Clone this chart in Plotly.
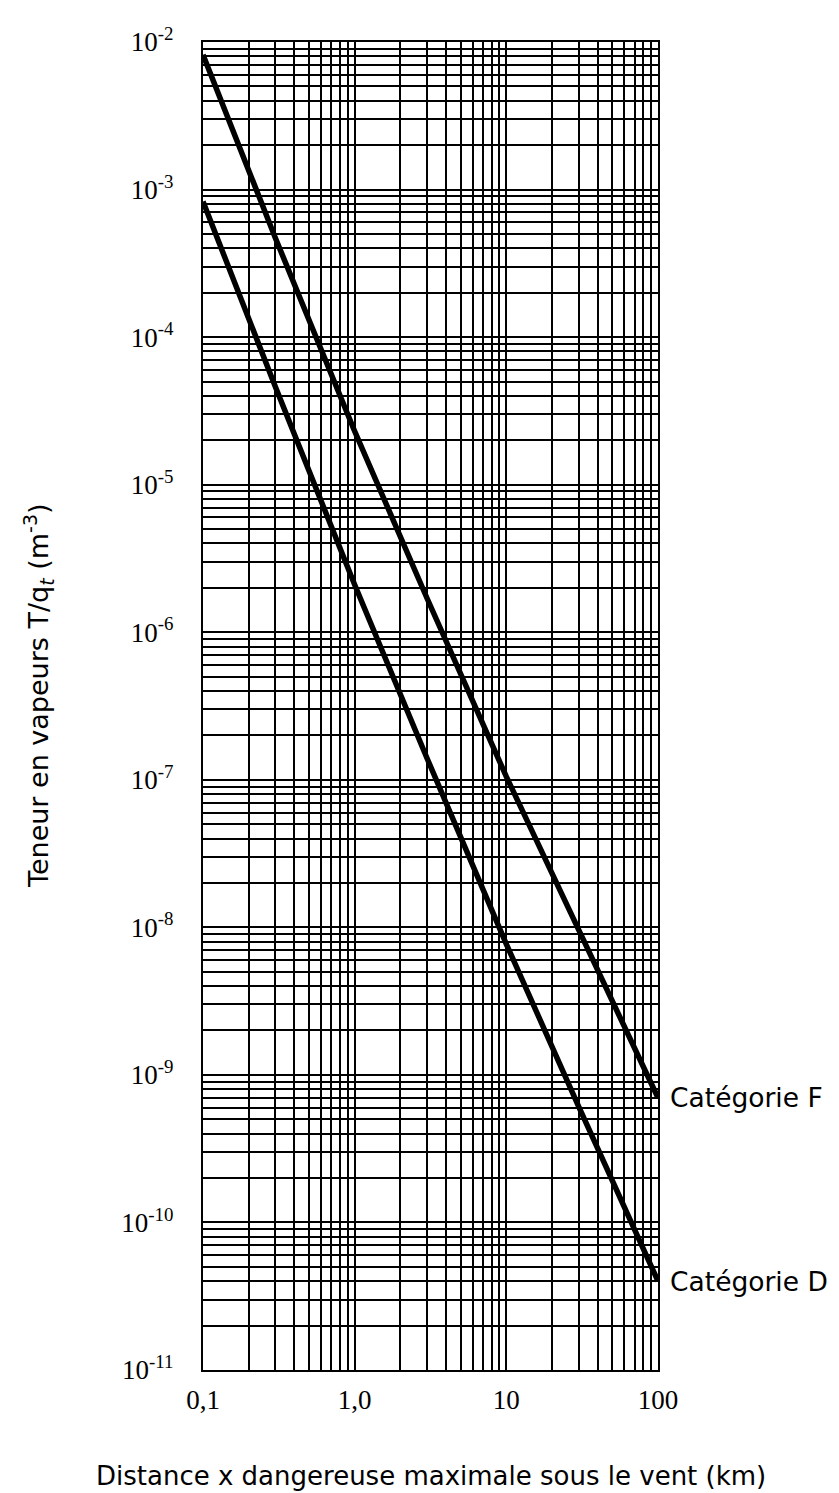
import math
import plotly.graph_objects as go

# ---- data ----
distance_km = [0.1, 0.3, 1.0, 3.0, 10.0, 30.0, 100.0]
cat_F = [8.2e-3, 4.7e-4, 2.3e-5, 1.7e-6, 1.05e-7, 9.6e-9, 7.0e-10]
cat_D = [8.3e-4, 4.6e-5, 2.1e-6, 1.4e-7, 7.7e-9, 6.1e-10, 4.0e-11]

x_decades = [-1, 0, 1, 2]
x_labels = ["0,1", "1,0", "10", "100"]
y_decades = list(range(-11, -1))
y_labels = ["10<sup>%d</sup>" % d for d in y_decades]
series_names = ["Catégorie F", "Catégorie D"]

x_title = "Distance x dangereuse maximale sous le vent (km)"
y_title = "Teneur en vapeurs T/q<sub><i>t</i></sub> (m<sup>-3</sup>)"

SANS = "DejaVu Sans"
SERIF = "Liberation Serif"


def minor_vals(decades):
    return [m * 10.0 ** d for d in decades[:-1] for m in range(2, 10)]


fig = go.Figure()
for name, ys in zip(series_names, [cat_F, cat_D]):
    fig.add_trace(go.Scatter(x=distance_km, y=ys, mode="lines", name=name,
                             line=dict(color="black", width=5.5), showlegend=False))
    fig.add_annotation(x=math.log10(distance_km[-1]), y=math.log10(ys[-1]),
                       xref="x", yref="y", text=name, showarrow=False,
                       xanchor="left", yanchor="middle", xshift=10,
                       font=dict(family=SANS, size=26.5, color="black"))

grid = dict(showgrid=True, gridcolor="black", gridwidth=1.6)
fig.update_xaxes(type="log", range=[-1, 2],
                 tickvals=[10.0 ** d for d in x_decades], ticktext=x_labels,
                 minor=dict(tickvals=minor_vals(x_decades), ticks="", **grid), **grid,
                 showline=True, linecolor="black", linewidth=2.2, mirror=True,
                 ticks="", tickfont=dict(family=SERIF, size=27, color="black"),
                 ticklabelstandoff=4, zeroline=False)
fig.update_yaxes(type="log", range=[-11, -2],
                 tickvals=[10.0 ** d for d in y_decades], ticktext=y_labels,
                 minor=dict(tickvals=minor_vals(y_decades), ticks="", **grid), **grid,
                 showline=True, linecolor="black", linewidth=2.2, mirror=True,
                 ticks="", tickfont=dict(family=SERIF, size=27, color="black"),
                 ticklabelstandoff=22, zeroline=False)

fig.add_annotation(text=x_title, xref="paper", yref="paper", x=0.5, y=0,
                   yanchor="middle", yshift=-106, showarrow=False,
                   font=dict(family=SANS, size=26, color="black"))
fig.add_annotation(text=y_title, xref="paper", yref="paper", x=0, y=0.5,
                   xanchor="center", yanchor="middle", xshift=-165, yshift=10,
                   textangle=-90, showarrow=False,
                   font=dict(family=SANS, size=27, color="black"))

fig.update_layout(width=839, height=1493, paper_bgcolor="white", plot_bgcolor="white",
                  margin=dict(l=195, r=189, t=34, b=131))
fig.write_html("out.html")
